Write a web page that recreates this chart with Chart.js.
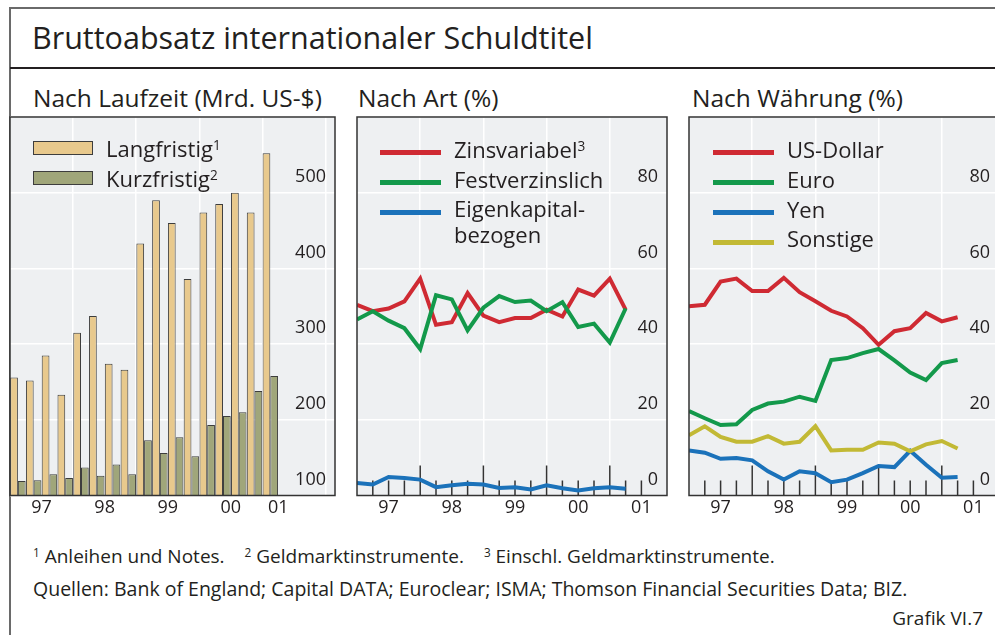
<!DOCTYPE html>
<html lang="de">
<head>
<meta charset="utf-8">
<title>Bruttoabsatz internationaler Schuldtitel</title>
<script src="https://cdn.jsdelivr.net/npm/chart.js@4.4.0/dist/chart.umd.min.js"></script>
<style>
  html, body { margin: 0; padding: 0; background: #fff; }
  body { width: 995px; height: 635px; overflow: hidden; position: relative;
         font-family: "Open Sans", sans-serif; color: #231f20; }
  .frame { position: absolute; left: 9px; top: 7px; width: 1000px; height: 700px;
           border-left: 2px solid #6a6a6a; border-top: 2px solid #6a6a6a; }
  .rule { position: absolute; left: 10px; top: 67px; width: 990px; border-top: 2px solid #231f20; }
  .title { position: absolute; left: 32px; top: 17px; font-size: 30.5px; line-height: 40px; white-space: nowrap; }
  .sub { position: absolute; top: 82px; font-size: 24.5px; line-height: 32px; white-space: nowrap; }
  canvas { position: absolute; }
  .leg { position: absolute; font-size: 22px; line-height: 30px; white-space: nowrap; }
  .sw { position: absolute; box-sizing: border-box; border: 1px solid #3d3d3d; width: 60px; height: 14px; }
  .ln { position: absolute; width: 61px; height: 5px; }
  .note { position: absolute; font-size: 19px; line-height: 24px; white-space: nowrap; }
  sup { font-size: 0.62em; vertical-align: 0.55em; line-height: 0; }
  .gap { margin-left: 20px; }
</style>
</head>
<body>
<div class="frame"></div>
<div class="rule"></div>
<div class="title">Bruttoabsatz internationaler Schuldtitel</div>
<div class="sub" style="left:33px">Nach Laufzeit (Mrd. US-$)</div>
<div class="sub" style="left:358px">Nach Art (%)</div>
<div class="sub" style="left:692px">Nach Währung (%)</div>

<canvas id="c1" width="329" height="405" style="left:8px; top:115px"></canvas>
<canvas id="c2" width="314" height="405" style="left:355px; top:115px"></canvas>
<canvas id="c3" width="314" height="405" style="left:687px; top:115px"></canvas>

<div class="sw" style="left:33px; top:141px; background:#e8c98d"></div>
<div class="leg" style="left:106px; top:133px">Langfristig<sup>1</sup></div>
<div class="sw" style="left:33px; top:171px; background:#a0a67a"></div>
<div class="leg" style="left:106px; top:163px">Kurzfristig<sup>2</sup></div>

<div class="ln" style="left:380px; top:150px; background:#cf2a33"></div>
<div class="leg" style="left:454px; top:134px">Zinsvariabel<sup>3</sup></div>
<div class="ln" style="left:380px; top:180px; background:#13994b"></div>
<div class="leg" style="left:454px; top:164px">Festverzinslich</div>
<div class="ln" style="left:380px; top:210px; background:#1b72ba"></div>
<div class="leg" style="left:454px; top:195px; line-height:26px">Eigenkapital-<br>bezogen</div>

<div class="ln" style="left:713px; top:150px; background:#cf2a33"></div>
<div class="leg" style="left:787px; top:134px">US-Dollar</div>
<div class="ln" style="left:713px; top:180px; background:#13994b"></div>
<div class="leg" style="left:787px; top:164px">Euro</div>
<div class="ln" style="left:713px; top:210px; background:#1b72ba"></div>
<div class="leg" style="left:787px; top:194px">Yen</div>
<div class="ln" style="left:713px; top:240px; background:#c2b935"></div>
<div class="leg" style="left:787px; top:223px">Sonstige</div>

<div class="note" style="left:33px; top:544px"><sup>1</sup> Anleihen und Notes.<span class="gap"><sup>2</sup> Geldmarktinstrumente.</span><span class="gap"><sup>3</sup> Einschl. Geldmarktinstrumente.</span></div>
<div class="note" style="left:33px; top:577px; font-size:19.5px">Quellen: Bank of England; Capital DATA; Euroclear; ISMA; Thomson Financial Securities Data; BIZ.</div>
<div class="note" style="right:12px; top:606px">Grafik VI.7</div>

<script>
// Quartale 1997 Q1 - 2001 Q1 (Balken), Linien mit einem Punkt mehr am Anfang
var jahre = ['97', '98', '99', '00', '01'];
var jahrPosBalken = [2, 6, 10, 14, 17];
var jahrPosLinien = [2, 6, 10, 14, 18];

var langfristig = [256, 252, 285, 233, 315, 337, 274, 266, 433, 490, 460, 386, 474, 485, 500, 474, 552];
var kurzfristig = [119, 120, 128, 123, 137, 126, 141, 128, 173, 156, 177, 152, 193, 205, 210, 238, 258];

var zinsvariabel = [50.4, 48.7, 49.4, 51.3, 57.3, 45.1, 45.8, 53.5, 47.5, 45.8, 46.9, 46.9, 49.1, 47.3, 54.4, 52.8, 57.3, 49.1];
var festverzinslich = [46.5, 48.7, 46.2, 44.2, 38.7, 52.9, 51.8, 43.6, 49.6, 52.7, 51.1, 51.5, 48.7, 51.1, 44.5, 45.4, 40.4, 49.4];
var eigenkapital = [3.3, 2.9, 4.9, 4.6, 4.2, 2.2, 2.7, 3.1, 2.9, 2.0, 2.2, 1.6, 2.7, 1.9, 1.3, 1.9, 2.2, 1.8];

var usDollar = [50.0, 50.4, 56.5, 57.3, 54.0, 54.0, 57.5, 53.7, 51.3, 48.8, 47.3, 44.2, 39.8, 43.4, 44.2, 48.2, 46.0, 47.1];
var euro = [22.3, 20.4, 18.6, 18.8, 22.6, 24.3, 24.8, 26.1, 25.0, 35.8, 36.3, 37.6, 38.7, 35.7, 32.5, 30.5, 35.0, 35.8];
var yen = [11.9, 11.3, 9.7, 9.9, 9.3, 6.4, 4.2, 6.4, 5.9, 3.5, 4.2, 5.9, 7.8, 7.5, 11.8, 8.1, 4.7, 4.9];
var sonstige = [15.9, 18.3, 15.5, 14.2, 14.2, 15.7, 13.7, 14.2, 18.3, 11.9, 12.1, 12.1, 14.0, 13.7, 11.7, 13.5, 14.4, 12.4];

var textFarbe = '#231f20';
var rahmen = '#333333';
var hintergrund = '#eef0f2';
var schrift = { family: 'Open Sans', size: 18 };

Chart.defaults.font.family = 'Open Sans';

var panelPlugin = {
  id: 'panel',
  beforeDraw: function (chart) {
    var a = chart.chartArea, ctx = chart.ctx;
    ctx.save();
    ctx.fillStyle = hintergrund;
    ctx.fillRect(a.left, a.top, a.right - a.left, a.bottom - a.top);
    ctx.restore();
  },
  beforeDatasetsDraw: function (chart, args, opts) {
    if (!opts.striche) return;
    var a = chart.chartArea, ctx = chart.ctx, x = chart.scales.x;
    ctx.save();
    ctx.strokeStyle = rahmen;
    ctx.lineWidth = 1.5;
    for (var q = 1; q <= opts.striche; q++) {
      var px = x.getPixelForValue(q);
      var len = q % 4 === 0 ? 30 : 15;
      ctx.beginPath();
      ctx.moveTo(px, a.bottom);
      ctx.lineTo(px, a.bottom - len);
      ctx.stroke();
    }
    ctx.restore();
  },
  afterDraw: function (chart) {
    var a = chart.chartArea, ctx = chart.ctx;
    ctx.save();
    ctx.strokeStyle = rahmen;
    ctx.lineWidth = 1.5;
    ctx.strokeRect(a.left, a.top, a.right - a.left, a.bottom - a.top);
    ctx.restore();
  }
};

function xAchse(max, pos) {
  return {
    type: 'linear', min: 0, max: max, offset: false,
    afterBuildTicks: function (s) {
      s.ticks = [];
      for (var i = 0; i <= Math.floor(max); i++) s.ticks.push({ value: i });
    },
    afterFit: function (s) { s.height = 24.5; s.paddingLeft = 0; s.paddingRight = 0; },
    grid: {
      offset: false,
      color: function (c) { return (c.tick && c.tick.value > 0 && c.tick.value % 4 === 0) ? '#ffffff' : 'rgba(0,0,0,0)'; },
      lineWidth: 1.5, drawTicks: false
    },
    border: { display: false },
    ticks: {
      autoSkip: false, maxRotation: 0, padding: 2, color: textFarbe, font: schrift,
      callback: function (v) { var i = pos.indexOf(v); return i >= 0 ? jahre[i] : ''; }
    }
  };
}

function yAchse(min, max, step) {
  return {
    position: 'right', min: min, max: max,
    afterFit: function (s) { s.width = 0; s.paddingTop = 0; s.paddingBottom = 0; },
    grid: { color: '#ffffff', lineWidth: 1.5, drawTicks: false },
    border: { display: false },
    ticks: {
      stepSize: step, mirror: true, padding: -9, labelOffset: -16, color: textFarbe, font: schrift,
      callback: function (v) { return v === max ? '' : v; }
    }
  };
}

function punkte(werte, versatz) {
  return werte.map(function (v, i) { return { x: i + versatz, y: v }; });
}

function linie(werte, farbe) {
  return { data: punkte(werte, 0), borderColor: farbe, borderWidth: 4, pointRadius: 0, tension: 0, clip: 0, fill: false };
}

function optionen(xmax, pos, ymin, ymax, step, striche) {
  return {
    responsive: false, animation: false,
    layout: { padding: { left: 2, right: 2, top: 2, bottom: 0 } },
    scales: { x: xAchse(xmax, pos), y: yAchse(ymin, ymax, step) },
    plugins: { legend: { display: false }, tooltip: { enabled: false }, panel: { striche: striche } }
  };
}

new Chart(document.getElementById('c1'), {
  type: 'bar',
  data: {
    datasets: [
      { data: punkte(langfristig, 0.5), backgroundColor: '#e8c98d', borderColor: '#3d3d3d', borderWidth: 1,
        categoryPercentage: 0.98, barPercentage: 1 },
      { data: punkte(kurzfristig, 0.5), backgroundColor: '#a0a67a', borderColor: '#3d3d3d', borderWidth: 1,
        categoryPercentage: 0.98, barPercentage: 1 }
    ]
  },
  options: optionen(20.6, jahrPosBalken, 100, 600, 100, 0),
  plugins: [panelPlugin]
});

new Chart(document.getElementById('c2'), {
  type: 'line',
  data: {
    datasets: [
      linie(eigenkapital, '#1b72ba'),
      linie(festverzinslich, '#13994b'),
      linie(zinsvariabel, '#cf2a33')
    ]
  },
  options: optionen(19.62, jahrPosLinien, 0, 100, 20, zinsvariabel.length),
  plugins: [panelPlugin]
});

new Chart(document.getElementById('c3'), {
  type: 'line',
  data: {
    datasets: [
      linie(sonstige, '#c2b935'),
      linie(yen, '#1b72ba'),
      linie(euro, '#13994b'),
      linie(usDollar, '#cf2a33')
    ]
  },
  options: optionen(19.62, jahrPosLinien, 0, 100, 20, usDollar.length),
  plugins: [panelPlugin]
});
</script>
</body>
</html>
